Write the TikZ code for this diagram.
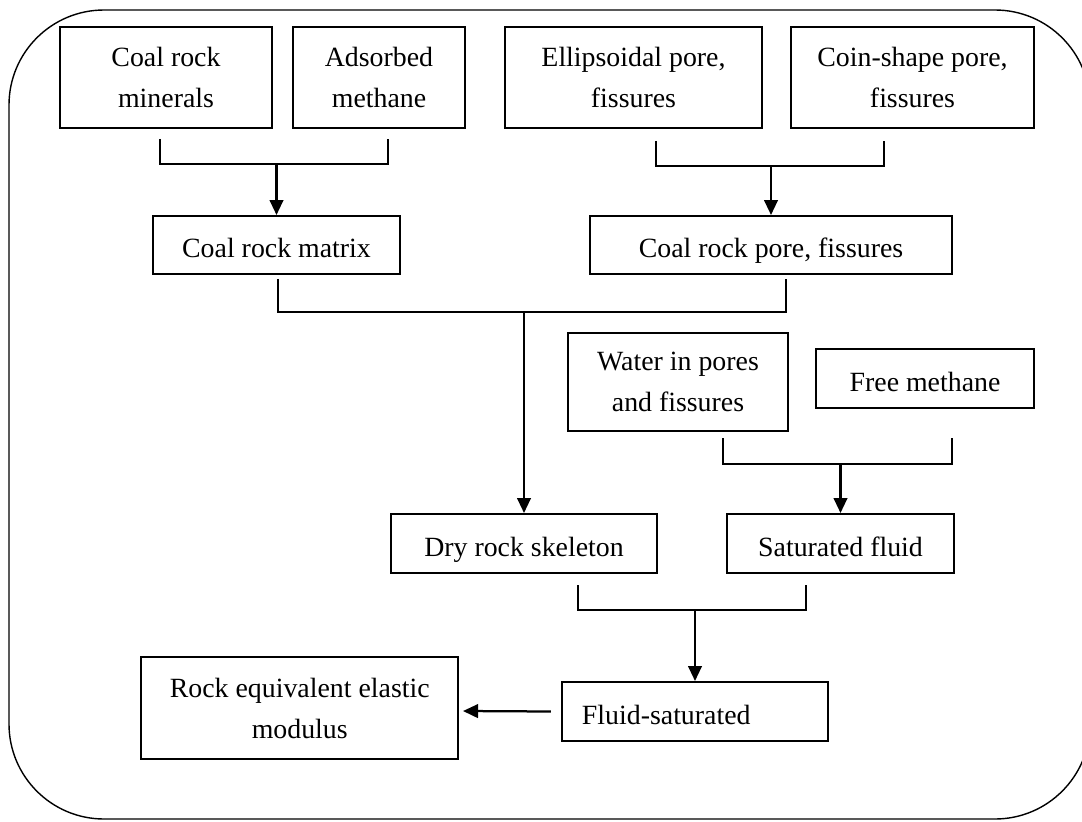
\documentclass[tikz,border=0pt]{standalone}
\usepackage{fontspec}
\setmainfont{Liberation Serif}
\usetikzlibrary{arrows.meta,calc}

\begin{document}
\begin{tikzpicture}[
    x=0.025cm, y=-0.025cm,
    every node/.style={font=\fontsize{19.8}{29.2}\selectfont, align=center},
    base/.style={draw, line width=1.4pt, inner sep=0pt},
    box/.style={base, minimum height=1.475cm, text height=18pt, text depth=0pt},
    tallbox/.style={base, minimum height=2.525cm},
    line/.style={line width=1.4pt},
    arrow/.style={line width=1.6pt, -{Triangle[length=0.375cm, width=0.34cm]}},
    frame/.style={line width=1pt, rounded corners=2.375cm}
]
\useasboundingbox (0,0) rectangle (1082,821);
\draw[frame] (9,10) rectangle (1090,819);

% top row
\node[tallbox, minimum width=5.3cm] (minerals) at (166,77.5) {Coal rock\\minerals};
\node[tallbox, minimum width=4.3cm] (adsorbed) at (379,77.5) {Adsorbed\\methane};
\node[tallbox, minimum width=6.425cm] (ellipsoid) at (633.5,77.5) {Ellipsoidal pore,\\fissures};
\node[tallbox, minimum width=6.075cm] (coin) at (912.5,77.5) {Coin-shape pore,\\fissures};

\node[box, minimum width=6.175cm, minimum height=1.45cm] (matrix) at (276.5,245) {Coal rock matrix};
\node[box, minimum width=9.05cm, minimum height=1.45cm] (pores) at (771,245) {Coal rock pore, fissures};

\node[tallbox, minimum width=5.5cm, minimum height=2.45cm] (water) at (678,382) {Water in pores\\and fissures};
\node[box, minimum width=5.45cm] (free) at (925,378.5) {Free methane};

\node[box, minimum width=6.65cm] (dry) at (524,543.5) {Dry rock skeleton};
\node[box, minimum width=5.675cm] (fluid) at (840.5,543.5) {Saturated fluid};

\node[box, text width=5.65cm, inner xsep=0.5cm, align=left] (fluidsat) at (695,711.5) {Fluid-saturated};
\node[tallbox, minimum width=7.9125cm, minimum height=2.55cm] (modulus) at (299.75,708) {Rock equivalent elastic\\modulus};

% brackets and arrows
\draw[line] ($(minerals.south)+(-6,10)$) -- ++(0,25) coordinate (j1) -| ($(adsorbed.south)+(9,10)$);
\draw[arrow] (matrix.north |- j1) -- (matrix.north);

\draw[line] ($(ellipsoid.south)+(22.5,12)$) -- ++(0,25) coordinate (j2) -| ($(coin.south)+(-28.5,12)$);
\draw[arrow] (pores.north |- j2) -- (pores.north);

\draw[line] ($(matrix.south)+(1.5,4)$) -- ++(0,33) coordinate (j3) -| ($(pores.south)+(15,4)$);
\draw[arrow] (dry.north |- j3) -- (dry.north);

\draw[line] ($(water.south)+(45,6)$) -- ++(0,26) coordinate (j4) -| ($(free.south)+(26.5,29)$);
\draw[arrow] (fluid.north |- j4) -- (fluid.north);

\draw[line] ($(dry.south)+(54,11)$) -- ++(0,25) coordinate (j5) -| ($(fluid.south)+(-34.5,11)$);
\draw[arrow] (fluidsat.north |- j5) -- (fluidsat.north);

\draw[arrow] ($(fluidsat.west)+(-10,0)$) -- ($(modulus.east)+(4,3)$);
\end{tikzpicture}
\end{document}
